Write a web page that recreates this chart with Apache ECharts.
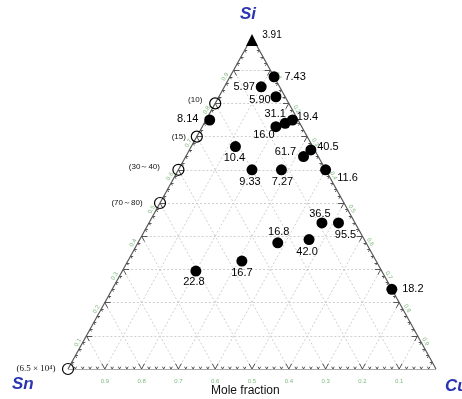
<!DOCTYPE html>
<html><head><meta charset="utf-8">
<script src="https://cdn.jsdelivr.net/npm/echarts@6/dist/echarts.min.js"></script>
<style>html,body{margin:0;padding:0;background:#fff}#c{width:462px;height:399px}</style>
</head><body><div id="c"></div>
<script>
// ---- data (ternary mole fractions; Sn = 1 - Si - Cu) ----
const dotLabels = ['7.43','5.97','5.90','8.14','16.0','31.1','19.4','10.4','61.7','40.5','9.33','7.27','11.6','36.5','95.5','16.8','42.0','16.7','22.8','18.2'];
const dotSi     = [0.88, 0.85, 0.82, 0.75, 0.73, 0.74, 0.75, 0.67, 0.64, 0.66, 0.60, 0.60, 0.60, 0.44, 0.44, 0.38, 0.39, 0.325, 0.295, 0.24];
const dotCu     = [0.12, 0.10, 0.155, 0.01, 0.20, 0.22, 0.235, 0.12, 0.32, 0.33, 0.20, 0.28, 0.40, 0.47, 0.515, 0.38, 0.46, 0.31, 0.20, 0.76];
const triLabels = ['3.91'];
const triSi     = [1.0];
const triCu     = [0.0];
const openLabels = ['(10)','(15)','(30～40)','(70～80)','(6.5 × 10⁴)'];
const openSi     = [0.80, 0.70, 0.60, 0.50, 0.0];
const openCu     = [0.0, 0.0, 0.0, 0.0, 0.0];
const bottomTickLabels = ['0.9','0.8','0.7','0.6','0.5','0.4','0.3','0.2','0.1']; // Sn, left to right
const leftTickLabels   = ['0.1','0.2','0.3','0.4','0.5','0.6','0.7','0.8','0.9']; // Si, bottom to top
const rightTickLabels  = ['0.1','0.2','0.3','0.4','0.5','0.6','0.7','0.8','0.9']; // Cu, top to bottom
const vertexNames = ['Si','Sn','Cu'];
const axisTitle = 'Mole fraction';

// ---- styling (label offsets in px) ----
const dotLabelOffset = [[21,0],[-17,0],[-16,3],[-22,-1],[-12,8],[-10,-9],[15,-3],[-1,11],[-18,-5],[17,-3],[-2,12],[1,12],[22,8],[-2,-9],[7,12],[1,-11],[-2,12],[0,12],[-2,11],[21,0]];
const triLabelOffset = [[20,-5]];
const openLabelOffset = [[-20,-4],[-18,0],[-34,-3],[-33,0],[-32,0]];

function xy(si, cu) { return [cu + si / 2, si]; }

const edgeSeg = [
  {coords: [xy(0,0), xy(0,1)]},
  {coords: [xy(0,1), xy(1,0)]},
  {coords: [xy(1,0), xy(0,0)]}
];
const gridSeg = [];
for (let k = 1; k < 10; k++) {
  const f = k / 10;
  gridSeg.push({coords: [xy(f, 0), xy(f, 1 - f)]});   // const Si
  gridSeg.push({coords: [xy(0, f), xy(1 - f, f)]});   // const Cu
  gridSeg.push({coords: [xy(0, 1 - f), xy(1 - f, 0)]}); // const Sn
}
const tickSeg = [];
for (let m = 1; m < 50; m++) {
  const f = m / 50;
  const major = (m % 5 === 0);
  const L = major ? 0.016 : 0.007;
  tickSeg.push({coords: [xy(0, f), xy(L, f)]});
  tickSeg.push({coords: [xy(0, f), xy(L, f - L)]});
  tickSeg.push({coords: [xy(f, 0), xy(f, L)]});
  tickSeg.push({coords: [xy(f, 0), xy(f - L, L)]});
  tickSeg.push({coords: [xy(1 - f, f), xy(1 - f, f - L)]});
  tickSeg.push({coords: [xy(1 - f, f), xy(1 - f - L, f)]});
}

const tickLabelData = [];
const tlStyle = {color: '#5aa85a', fontSize: 6, fontFamily: 'Liberation Sans'};
for (let k = 1; k < 10; k++) {
  const f = k / 10;
  tickLabelData.push({value: xy(0, f), label: Object.assign({show: true, formatter: bottomTickLabels[k-1], position: 'inside', offset: [0, 12]}, tlStyle)});
  tickLabelData.push({value: xy(f, 0), label: Object.assign({show: true, formatter: leftTickLabels[k-1], position: 'inside', offset: [-10, -4], rotate: 60}, tlStyle)});
  tickLabelData.push({value: xy(1 - f, f), label: Object.assign({show: true, formatter: rightTickLabels[k-1], position: 'inside', offset: [9, -4], rotate: -60}, tlStyle)});
}

function pts(si, cu, labels, offs, extra) {
  return si.map((s, i) => ({
    value: xy(s, cu[i]),
    label: Object.assign({show: true, formatter: labels[i], position: 'inside', offset: offs[i]}, extra || {})
  }));
}

const chart = echarts.init(document.getElementById('c'), null, {renderer: 'canvas'});
const dotLbl = {color: '#000', fontSize: 11, fontFamily: 'Liberation Sans'};
const openLbl = {color: '#111', fontSize: 8, fontFamily: 'Liberation Sans'};
const openData = pts(openSi, openCu, openLabels, openLabelOffset, openLbl);
Object.assign(openData[4].label, {fontFamily: 'Liberation Serif', fontSize: 9});

chart.setOption({
  animation: false,
  grid: {left: 68, right: 26, top: 37, bottom: 30},
  xAxis: {type: 'value', min: 0, max: 1, show: false},
  yAxis: {type: 'value', min: 0, max: 1, show: false},
  series: [
    {type: 'lines', coordinateSystem: 'cartesian2d', data: gridSeg, silent: true,
     lineStyle: {color: '#cfcfcf', width: 1, type: [2, 2], opacity: 1}, z: 1},
    {type: 'lines', coordinateSystem: 'cartesian2d', data: tickSeg, silent: true,
     lineStyle: {color: '#444', width: 0.9, opacity: 1}, z: 2},
    {type: 'lines', coordinateSystem: 'cartesian2d', data: edgeSeg, silent: true,
     lineStyle: {color: '#555', width: 1.2, opacity: 1}, z: 3},
    {type: 'scatter', symbol: 'circle', symbolSize: 2, itemStyle: {color: 'rgba(0,0,0,0)'}, silent: true,
     data: tickLabelData, z: 4},
    {type: 'scatter', symbol: 'circle', symbolSize: 11, itemStyle: {color: '#000', opacity: 1},
     data: pts(dotSi, dotCu, dotLabels, dotLabelOffset, dotLbl), z: 5},
    {type: 'scatter', symbol: 'triangle', symbolSize: 12, symbolOffset: [0, 3], itemStyle: {color: '#000', opacity: 1},
     data: pts(triSi, triCu, triLabels, triLabelOffset, {color: '#000', fontSize: 10, fontFamily: 'Liberation Sans'}), z: 5},
    {type: 'scatter', symbol: 'circle', symbolSize: 11,
     itemStyle: {color: 'rgba(255,255,255,0)', borderColor: '#000', borderWidth: 1.2, opacity: 1},
     data: openData, z: 5}
  ],
  graphic: [
    {type: 'text', left: 240, top: 6, style: {text: vertexNames[0], fill: '#2a36b0', font: 'italic bold 17px Liberation Sans'}},
    {type: 'text', left: 12, top: 376, style: {text: vertexNames[1], fill: '#2a36b0', font: 'italic bold 17px Liberation Sans'}},
    {type: 'text', left: 445, top: 378, style: {text: vertexNames[2], fill: '#2a36b0', font: 'italic bold 17px Liberation Sans'}},
    {type: 'text', left: 211, top: 385, style: {text: axisTitle, fill: '#111', font: '12px Liberation Sans'}}
  ]
});
</script></body></html>
